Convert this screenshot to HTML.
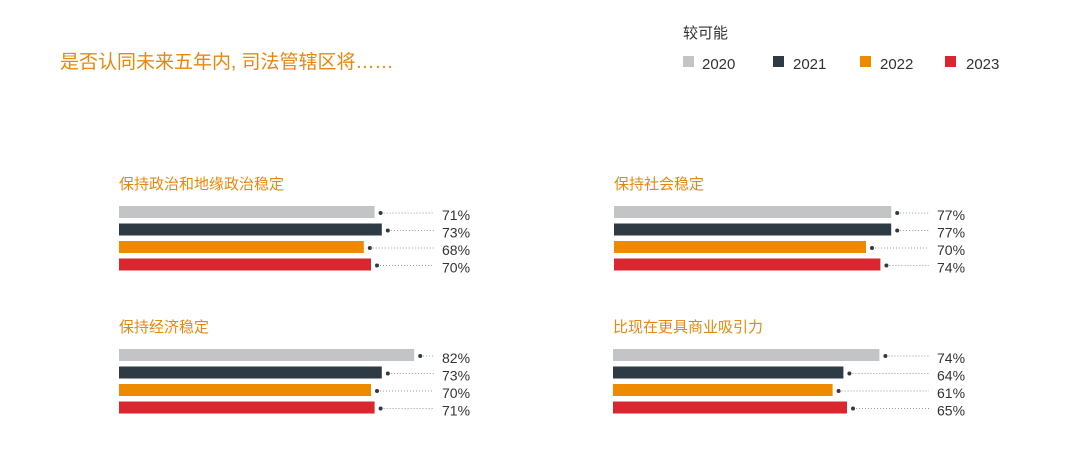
<!DOCTYPE html>
<html><head><meta charset="utf-8"><style>
body{margin:0;background:#fff;width:1088px;height:452px;overflow:hidden;font-family:"Liberation Sans","Noto Sans CJK SC",sans-serif}
</style></head><body>
<svg width="1088" height="452" xmlns="http://www.w3.org/2000/svg" font-family="Liberation Sans, Noto Sans CJK SC, sans-serif">
<text x="60" y="68" font-size="19" fill="#e8870e">是否认同未来五年内, 司法管辖区将……</text>
<text x="683" y="38" font-size="15" fill="#333">较可能</text>
<rect x="683" y="56" width="11" height="11" fill="#c2c4c6"/><text x="702" y="69" font-size="15" fill="#333">2020</text>
<rect x="773" y="56" width="11" height="11" fill="#2e3b45"/><text x="793" y="69" font-size="15" fill="#333">2021</text>
<rect x="860" y="56" width="11" height="11" fill="#ee8a00"/><text x="880" y="69" font-size="15" fill="#333">2022</text>
<rect x="945" y="56" width="11" height="11" fill="#d9262f"/><text x="966" y="69" font-size="15" fill="#333">2023</text>
<g id="panels"></g>
</svg>
<script>
const cols=["#c2c4c6","#2e3b45","#ee8a00","#d9262f"];
const P=[
{x:119,ty:189,by:206,lx:442,t:"保持政治和地缘政治稳定",v:[71,73,68,70]},
{x:614,ty:189,by:206,lx:937,t:"保持社会稳定",v:[77,77,70,74]},
{x:119,ty:332,by:349,lx:442,t:"保持经济稳定",v:[82,73,70,71]},
{x:613,ty:332,by:349,lx:937,t:"比现在更具商业吸引力",v:[74,64,61,65]}];
let s="";
for(const p of P){
s+=`<text x="${p.x}" y="${p.ty}" font-size="15" fill="#e8870e">${p.t}</text>`;
p.v.forEach((v,i)=>{const y=p.by+i*17.5,w=v*3.6,cy=y+6;
s+=`<rect x="${p.x}" y="${y}" width="${w}" height="12" fill="${cols[i]}"/>`;
s+=`<circle cx="${p.x+w+6}" cy="${cy+1}" r="2" fill="#2e3b45"/>`;
s+=`<line x1="${p.x+w+9}" y1="${cy+1}" x2="${p.lx-8}" y2="${cy+1}" stroke="#999" stroke-width="1" stroke-dasharray="1,2"/>`;
s+=`<text x="${p.lx}" y="${cy+8}" font-size="14" fill="#333">${v}%</text>`;});
}
document.getElementById("panels").innerHTML=s;
</script>
</body></html>
